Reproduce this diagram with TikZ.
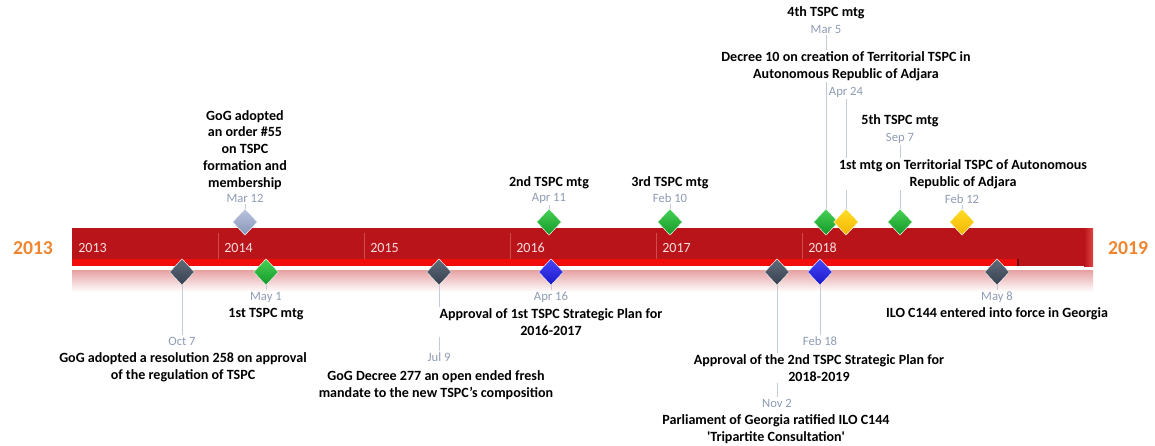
\documentclass[tikz,border=0pt]{standalone}
\usepackage{fontspec}
\setmainfont{Carlito}
\usepackage{tikz}
\usetikzlibrary{shapes.geometric,backgrounds}
\definecolor{barred}{HTML}{B81419}
\definecolor{barend}{HTML}{E04646}
\definecolor{stripe}{HTML}{F20D0D}
\definecolor{reflect}{HTML}{E6A0A2}
\definecolor{divcol}{HTML}{D24A4A}
\definecolor{yrtext}{HTML}{F5DEDE}
\definecolor{yrcol}{HTML}{F08530}
\definecolor{dtcol}{HTML}{8E9BB3}
\definecolor{conncol}{HTML}{C2CBDA}
\definecolor{greentop}{HTML}{46D255}
\definecolor{greenbot}{HTML}{149628}
\definecolor{bluetop}{HTML}{4646FA}
\definecolor{bluebot}{HTML}{1919C8}
\definecolor{yellowtop}{HTML}{FFDE28}
\definecolor{yellowbot}{HTML}{F5B400}
\definecolor{slatetop}{HTML}{5F6A7A}
\definecolor{slatebot}{HTML}{374150}
\definecolor{paletop}{HTML}{B9C3DC}
\definecolor{palebot}{HTML}{8796B9}

\begin{document}
\begin{tikzpicture}[x=0.025cm,y=-0.025cm,
  mk/.style={diamond,minimum width=0.62cm,minimum height=0.66cm,inner sep=0pt,draw=white,line width=0.3pt},
  mkgreen/.style={mk,top color=greentop,bottom color=greenbot},
  mkblue/.style={mk,top color=bluetop,bottom color=bluebot},
  mkyellow/.style={mk,top color=yellowtop,bottom color=yellowbot},
  mkslate/.style={mk,top color=slatetop,bottom color=slatebot},
  mkpale/.style={mk,top color=paletop,bottom color=palebot},
  dt/.style={text=dtcol,font=\small,inner sep=1pt},
  ev/.style={font=\bfseries,align=center,fill=white,inner sep=1pt},
  ln/.style={draw=conncol,line width=0.6pt}]
\useasboundingbox (0,0) rectangle (1155,446);

\begin{scope}[on background layer]
\fill[barred] (72,228) rectangle (1093,266);
\shade[left color=barred,right color=barend] (1084,228) rectangle (1093,266);
\fill[stripe] (72,259) rectangle (1018,266);
\draw[black!60!red,line width=0.8pt] (1018,259) -- (1018,266);
\shade[top color=reflect,bottom color=white] (72,270) rectangle (1093,292);
\foreach \i in {0,...,5}{
  \node[anchor=west,inner sep=0pt,text=yrtext] at (78+146*\i,248) {\the\numexpr2013+\i\relax};
  \ifnum\i>0 \draw[divcol,line width=0.4pt] (72+146*\i,233) -- (72+146*\i,259); \fi
}
\end{scope}

\node[font=\bfseries\fontsize{14}{16}\selectfont,text=yrcol] (y13) at (33,248) {2013};
\node[font=\bfseries\fontsize{14}{16}\selectfont,text=yrcol] (y19) at (1128,248) {2019};

% above the bar
\node[mkpale] (mar12) at (245,222) {};
\node[mkgreen] (apr11) at (549,222) {};
\node[mkgreen] (feb10) at (670,222) {};
\node[mkgreen] (mar5) at (826,222) {};
\node[mkyellow] (apr24) at (846,222) {};
\node[mkgreen] (sep7) at (900,222) {};
\node[mkyellow] (feb12) at (962,222) {};

\node[dt] (mar12d) at (245,198) {Mar 12};
\node[ev] (mar12t) at (245,150) {GoG adopted\\an order \#55\\on TSPC\\formation and\\membership};
\node[dt] (apr11d) at (549,198) {Apr 11};
\node[ev] (apr11t) at (549,183) {2nd TSPC mtg};
\node[dt] (feb10d) at (670,198) {Feb 10};
\node[ev] (feb10t) at (670,183) {3rd TSPC mtg};
\node[dt] (mar5d) at (826,29) {Mar 5};
\node[ev] (mar5t) at (826,13) {4th TSPC mtg};
\node[dt] (apr24d) at (846,92) {Apr 24};
\node[ev] (apr24t) at (846,66) {Decree 10 on creation of Territorial TSPC in\\Autonomous Republic of Adjara};
\node[dt] (sep7d) at (900,138) {Sep 7};
\node[ev] (sep7t) at (900,121) {5th TSPC mtg};
\node[dt] (feb12d) at (962,199) {Feb 12};
\node[ev] (feb12t) at (963,174) {1st mtg on Territorial TSPC of Autonomous\\Republic of Adjara};

% below the bar
\node[mkslate] (oct7) at (182,272) {};
\node[mkgreen] (may1) at (266,272) {};
\node[mkslate] (jul9) at (439,272) {};
\node[mkblue] (apr16) at (551,272) {};
\node[mkslate] (nov2) at (777,272) {};
\node[mkblue] (feb18) at (820,272) {};
\node[mkslate] (may8) at (997,272) {};

\node[dt] (oct7d) at (182,341) {Oct 7};
\node[ev] (oct7t) at (183,367) {GoG adopted a resolution 258 on approval\\of the regulation of TSPC};
\node[dt] (may1d) at (266,297) {May 1};
\node[ev] (may1t) at (266,314) {1st TSPC mtg};
\node[dt] (jul9d) at (439,357) {Jul 9};
\node[ev] (jul9t) at (436,385) {GoG Decree 277 an open ended fresh\\mandate to the new TSPC's composition};
\node[dt] (apr16d) at (551,297) {Apr 16};
\node[ev] (apr16t) at (551,322) {Approval of 1st TSPC Strategic Plan for\\2016-2017};
\node[dt] (nov2d) at (777,403) {Nov 2};
\node[ev] (nov2t) at (776,429) {Parliament of Georgia ratified ILO C144\\\textquotesingle Tripartite Consultation\textquotesingle};
\node[dt] (feb18d) at (820,341) {Feb 18};
\node[ev] (feb18t) at (819,368) {Approval of the 2nd TSPC Strategic Plan for\\2018-2019};
\node[dt] (may8d) at (997,297) {May 8};
\node[ev] (may8t) at (997,314) {ILO C144 entered into force in Georgia};

\begin{scope}[on background layer]
\foreach \m in {mar12,apr11,feb10,mar5,apr24,sep7,feb12,oct7,may1,jul9,apr16,nov2,feb18,may8}
  \draw[ln] (\m) -- (\m d);
\end{scope}
\end{tikzpicture}
\end{document}
